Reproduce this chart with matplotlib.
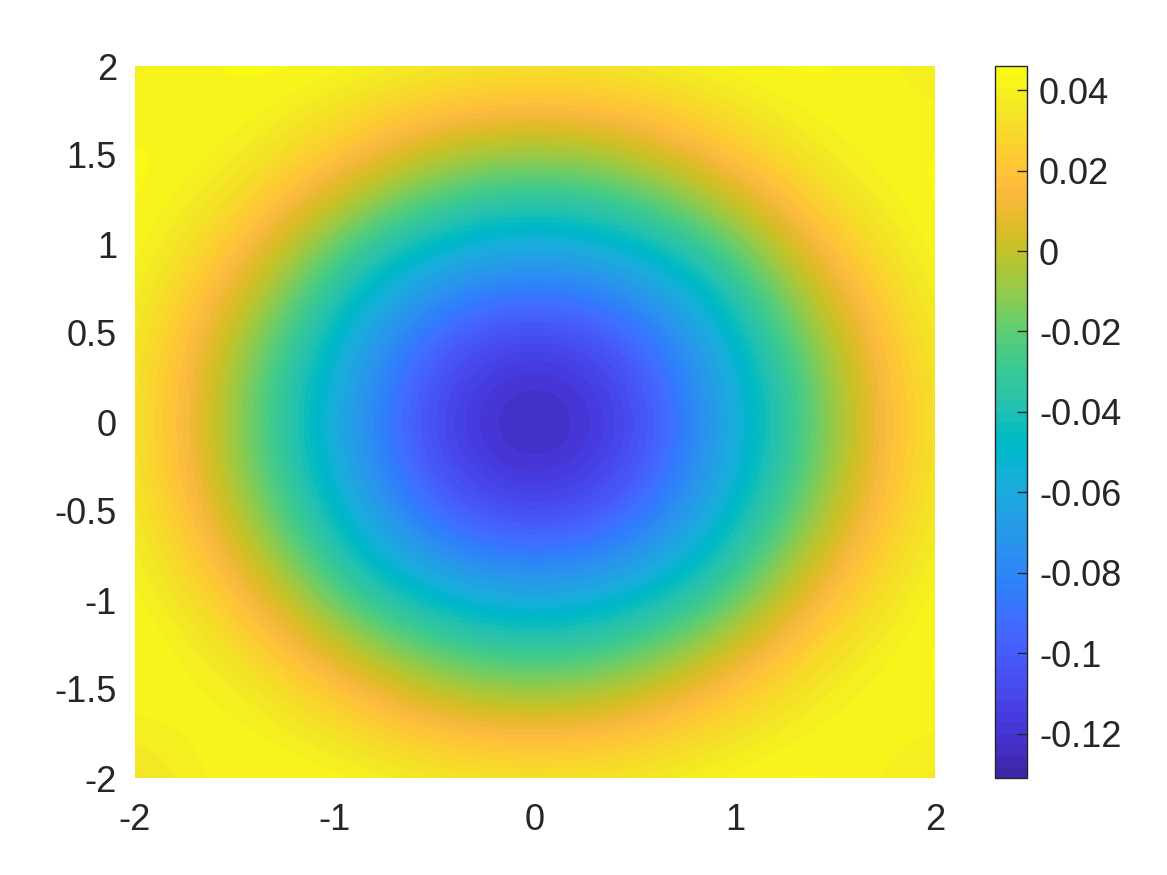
import numpy as np
import matplotlib
matplotlib.use("Agg")
import matplotlib.pyplot as plt
from matplotlib.colors import ListedColormap

# grid node coordinates (same for x and y)
grid_x = [-2.0, -1.5, -1.0, -0.5, 0.0, 0.5, 1.0, 1.5, 2.0]
grid_y = [-2.0, -1.5, -1.0, -0.5, 0.0, 0.5, 1.0, 1.5, 2.0]

# field values, rows run from y=-2 (bottom) to y=2 (top)
field = [
    [0.030, 0.045, 0.046, 0.042, 0.040, 0.042, 0.046, 0.045, 0.034],
    [0.045, 0.044, 0.024, -0.003, -0.012, -0.003, 0.024, 0.044, 0.045],
    [0.046, 0.024, -0.022, -0.049, -0.061, -0.049, -0.022, 0.024, 0.046],
    [0.042, -0.003, -0.049, -0.101, -0.118, -0.101, -0.049, -0.003, 0.042],
    [0.040, -0.012, -0.061, -0.118, -0.131, -0.118, -0.061, -0.012, 0.040],
    [0.042, -0.003, -0.049, -0.101, -0.118, -0.101, -0.049, -0.003, 0.042],
    [0.046, 0.024, -0.022, -0.049, -0.061, -0.049, -0.022, 0.024, 0.046],
    [0.045, 0.044, 0.024, -0.003, -0.012, -0.003, 0.024, 0.044, 0.045],
    [0.038, 0.045, 0.046, 0.042, 0.040, 0.042, 0.046, 0.045, 0.036],
]

x_ticks = [-2, -1, 0, 1, 2]
x_labels = ["-2", "-1", "0", "1", "2"]
y_ticks = [-2, -1.5, -1, -0.5, 0, 0.5, 1, 1.5, 2]
y_labels = ["-2", "-1.5", "-1", "-0.5", "0", "0.5", "1", "1.5", "2"]
cb_ticks = [-0.12, -0.1, -0.08, -0.06, -0.04, -0.02, 0, 0.02, 0.04]
cb_labels = ["-0.12", "-0.1", "-0.08", "-0.06", "-0.04", "-0.02", "0", "0.02", "0.04"]

# MATLAB parula (64 entries)
PARULA = [
    [0.2422, 0.1504, 0.6603], [0.2504, 0.1650, 0.7076], [0.2578, 0.1818, 0.7511],
    [0.2647, 0.1978, 0.7952], [0.2706, 0.2147, 0.8364], [0.2751, 0.2342, 0.8710],
    [0.2783, 0.2559, 0.8991], [0.2803, 0.2782, 0.9221], [0.2813, 0.3006, 0.9414],
    [0.2810, 0.3228, 0.9579], [0.2795, 0.3447, 0.9717], [0.2760, 0.3667, 0.9829],
    [0.2699, 0.3892, 0.9906], [0.2602, 0.4123, 0.9952], [0.2440, 0.4358, 0.9988],
    [0.2206, 0.4603, 0.9973], [0.1963, 0.4847, 0.9892], [0.1834, 0.5074, 0.9798],
    [0.1786, 0.5289, 0.9682], [0.1764, 0.5499, 0.9520], [0.1687, 0.5703, 0.9359],
    [0.1540, 0.5902, 0.9218], [0.1460, 0.6091, 0.9079], [0.1380, 0.6276, 0.8973],
    [0.1248, 0.6459, 0.8883], [0.1113, 0.6635, 0.8763], [0.0952, 0.6798, 0.8598],
    [0.0689, 0.6948, 0.8394], [0.0297, 0.7082, 0.8163], [0.0036, 0.7203, 0.7917],
    [0.0067, 0.7312, 0.7660], [0.0433, 0.7411, 0.7394], [0.0964, 0.7500, 0.7120],
    [0.1408, 0.7584, 0.6842], [0.1717, 0.7670, 0.6554], [0.1938, 0.7758, 0.6251],
    [0.2161, 0.7843, 0.5923], [0.2470, 0.7918, 0.5567], [0.2906, 0.7973, 0.5188],
    [0.3406, 0.8008, 0.4789], [0.3909, 0.8029, 0.4354], [0.4456, 0.8024, 0.3909],
    [0.5044, 0.7993, 0.3480], [0.5616, 0.7942, 0.3045], [0.6174, 0.7876, 0.2612],
    [0.6720, 0.7793, 0.2227], [0.7242, 0.7698, 0.1910], [0.7738, 0.7598, 0.1646],
    [0.8203, 0.7498, 0.1535], [0.8634, 0.7406, 0.1596], [0.9035, 0.7330, 0.1774],
    [0.9393, 0.7288, 0.2100], [0.9728, 0.7298, 0.2394], [0.9956, 0.7434, 0.2371],
    [0.9970, 0.7659, 0.2199], [0.9952, 0.7893, 0.2028], [0.9892, 0.8136, 0.1885],
    [0.9786, 0.8386, 0.1766], [0.9676, 0.8639, 0.1643], [0.9610, 0.8890, 0.1537],
    [0.9597, 0.9135, 0.1423], [0.9628, 0.9373, 0.1265], [0.9691, 0.9606, 0.1064],
    [0.9769, 0.9839, 0.0805],
]
parula = ListedColormap(PARULA, name="parula")

TXT = "#262626"
plt.rcParams["font.family"] = ["Liberation Sans", "DejaVu Sans"]
plt.rcParams["axes.unicode_minus"] = False

W, H = 1167, 875
fig = plt.figure(figsize=(W / 100, H / 100), dpi=100)
ax = fig.add_axes([135 / W, 1 - 778 / H, 800 / W, 712 / H])
cax = fig.add_axes([994.5 / W, 1 - 778 / H, 32 / W, 712 / H])

Z = np.array(field)
dx = grid_x[1] - grid_x[0]
dy = grid_y[1] - grid_y[0]
im = ax.imshow(Z, cmap=parula, origin="lower", aspect="auto",
               extent=(grid_x[0] - dx / 2, grid_x[-1] + dx / 2,
                       grid_y[0] - dy / 2, grid_y[-1] + dy / 2),
               interpolation="bicubic", interpolation_stage="data",
               vmin=Z.min(), vmax=Z.max())
ax.set_xlim(grid_x[0], grid_x[-1])
ax.set_ylim(grid_y[0], grid_y[-1])
for s in ax.spines.values():
    s.set_visible(False)
ax.set_xticks(x_ticks, x_labels)
ax.set_yticks(y_ticks, y_labels)
ax.tick_params(axis="x", length=0, pad=18, labelsize=26, colors=TXT)
ax.tick_params(axis="y", length=0, pad=13, labelsize=26, colors=TXT)

cb = fig.colorbar(im, cax=cax)
cb.set_ticks(cb_ticks, labels=cb_labels)
cb.outline.set_linewidth(1.0)
cb.outline.set_edgecolor(TXT)
cax.tick_params(direction="in", length=7, width=1, colors=TXT,
                labelcolor=TXT, labelsize=26, pad=9)

fig.savefig("out.png", dpi=100)
